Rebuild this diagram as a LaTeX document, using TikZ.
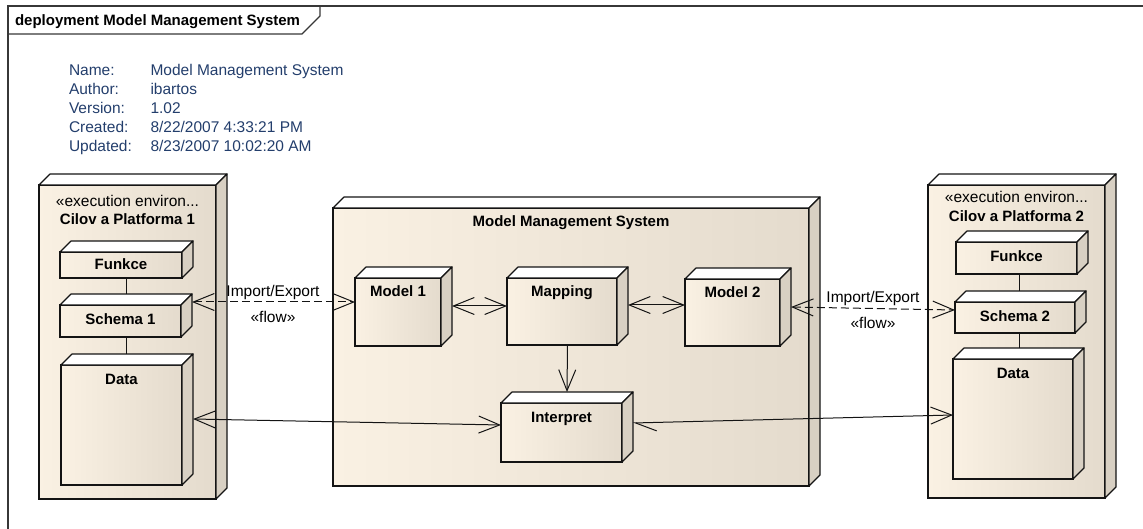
\documentclass[tikz,border=0pt]{standalone}
\usepackage{fontspec}
\setmainfont{Liberation Sans}
\usetikzlibrary{arrows.meta,calc}

\definecolor{nodeL}{RGB}{250,241,227}
\definecolor{nodeR}{RGB}{228,219,205}
\definecolor{nodeSide}{RGB}{216,208,195}
\definecolor{edgeInk}{RGB}{20,20,20}
\definecolor{frameInk}{RGB}{55,55,55}
\definecolor{metaInk}{RGB}{35,62,108}

\tikzset{
  box3d/.style={rectangle, draw=edgeInk, line width=1.2pt, left color=nodeL, right color=nodeR,
    inner sep=0pt, outer sep=0pt},
  topface/.style={draw=edgeInk, line width=1.2pt, fill=white, line join=round},
  sideface/.style={draw=edgeInk, line width=1.2pt, fill=nodeSide, line join=round},
  lbl/.style={anchor=base, inner sep=0pt, outer sep=0pt, font=\fontsize{15.5}{18}\selectfont},
  blbl/.style={lbl, font=\fontsize{15}{18}\selectfont\bfseries},
  meta/.style={lbl, anchor=base west, text=metaInk},
  vee/.tip={Straight Barb[length=21pt,width=17pt]},
  halfvee/.tip={Straight Barb[length=21pt,width=17pt,harpoon]},
  link/.style={draw=edgeInk, line width=1pt},
  flowlink/.style={link, dash pattern=on 8pt off 4pt},
}

% front face as a named node, then the top and side faces behind it
\newcommand\cubebox[4]{%
  \node[box3d, minimum width=#3pt, minimum height=#4pt] (#1) at #2 {};
  \path[topface] (#1.north west) -- ++(11,-11) -- ($(#1.north east)+(11,-11)$)
    -- (#1.north east) -- cycle;
  \path[sideface] (#1.north east) -- ++(11,-11) -- ($(#1.south east)+(11,-11)$)
    -- (#1.south east) -- cycle;
}

\begin{document}
\begin{tikzpicture}[x=1pt,y=-1pt]
\useasboundingbox (0,0) rectangle (1143,529);

% diagram frame with its name tab
\node[blbl, anchor=base west] (title) at (15,26) {deployment Model Management System};
\draw[frameInk, line width=1.5pt] (8,529) -- (8,6) -- (1143,6);
\draw[frameInk, line width=1.3pt] (8,34) -- (302,34) -- (320,16) -- (320,6);

% document properties
\node[meta] (kName) at (69,75.5) {Name:};
\node[meta] (vName) at (150.5,75.5) {Model Management System};
\node[meta] (kAuthor) at (69,94.5) {Author:};
\node[meta] (vAuthor) at (150.5,94.5) {ibartos};
\node[meta] (kVersion) at (69,113.5) {Version:};
\node[meta] (vVersion) at (150.5,113.5) {1.02};
\node[meta] (kCreated) at (69,132.5) {Created:};
\node[meta] (vCreated) at (150.5,132.5) {8/22/2007 4:33:21 PM};
\node[meta] (kUpdated) at (69,151.5) {Updated:};
\node[meta] (vUpdated) at (150.5,151.5) {8/23/2007 10:02:20 AM};

% target platform 1
\cubebox{envA}{(127.5,342)}{177}{314}
\node[lbl] (envAst) at (127.5,207) {«execution environ...};
\node[blbl] (envAnm) at (127.5,225) {Cilov a Platforma 1};
\cubebox{fA}{(121,265)}{122}{26}
\node[blbl] (fAt) at (121,270) {Funkce};
\cubebox{schA}{(120.5,321)}{121}{32}
\node[blbl] (schAt) at (120.5,324) {Schema 1};
\cubebox{dataA}{(121.5,425)}{121}{120}
\node[blbl] (dataAt) at (121.5,384) {Data};
\draw[link] ($(fA.south)+(5,0)$) -- ($(schA.north)+(5.5,-11)$);
\draw[link] ($(schA.south)+(5.5,0)$) -- ($(dataA.north)+(4.5,-11)$);

% model management system
\cubebox{mms}{(571,347)}{476}{278}
\node[blbl] (mmst) at (571,227) {Model Management System};
\cubebox{m1}{(398,312)}{86}{68}
\node[blbl] (m1t) at (398,297) {Model 1};
\cubebox{map}{(562,311.5)}{110}{67}
\node[blbl] (mapt) at (562,297) {Mapping};
\cubebox{m2}{(732.5,312.5)}{95}{67}
\node[blbl] (m2t) at (732.5,298) {Model 2};
\cubebox{interp}{(561.5,432.5)}{121}{59}
\node[blbl] (interpt) at (561.5,422) {Interpret};

% target platform 2
\cubebox{envB}{(1016.5,341.5)}{177}{313}
\node[lbl] (envBst) at (1016.5,203) {«execution environ...};
\node[blbl] (envBnm) at (1016.5,222) {Cilov a Platforma 2};
\cubebox{fB}{(1016.5,258)}{121}{32}
\node[blbl] (fBt) at (1016.5,262) {Funkce};
\cubebox{schB}{(1015,317.5)}{120}{31}
\node[blbl] (schBt) at (1015,321) {Schema 2};
\cubebox{dataB}{(1013,419)}{120}{120}
\node[blbl] (dataBt) at (1013,378) {Data};
\draw[link] ($(fB.south)+(2.5,0)$) -- ($(schB.north)+(4,-11)$);
\draw[link] ($(schB.south)+(4,0)$) -- ($(dataB.north)+(6,-11)$);

% connectors
\draw[flowlink, vee-vee] ($(schA.north east)+(11,-3)$) -- ($(m1.north west)+(0,24)$);
\node[lbl] (ieA) at (273,297) {Import/Export};
\node[lbl] (flA) at (273,323) {«flow»};

\draw[link, vee-vee] ($(m1.north east)+(11,28)$) -- ($(map.north west)+(0,28)$);
\draw[link, vee-vee] ($(map.north east)+(11,27)$) -- ($(m2.north west)+(0,26)$);
\draw[link, -vee] ($(map.south)+(5.5,0)$) -- ($(interp.north)+(5.5,-11)$);

\draw[flowlink, vee-vee] ($(m2.north east)+(11,28)$) -- ($(schB.north west)+(0,8)$);
\node[lbl] (ieB) at (873,303) {Import/Export};
\node[lbl] (flB) at (873,328) {«flow»};

\draw[link, vee-vee] ($(dataA.north east)+(11,54)$) -- ($(interp.north west)+(0,22)$);
\draw[link, halfvee-vee] ($(interp.north east)+(11,20)$) -- ($(dataB.north west)+(0,56)$);
\end{tikzpicture}
\end{document}
